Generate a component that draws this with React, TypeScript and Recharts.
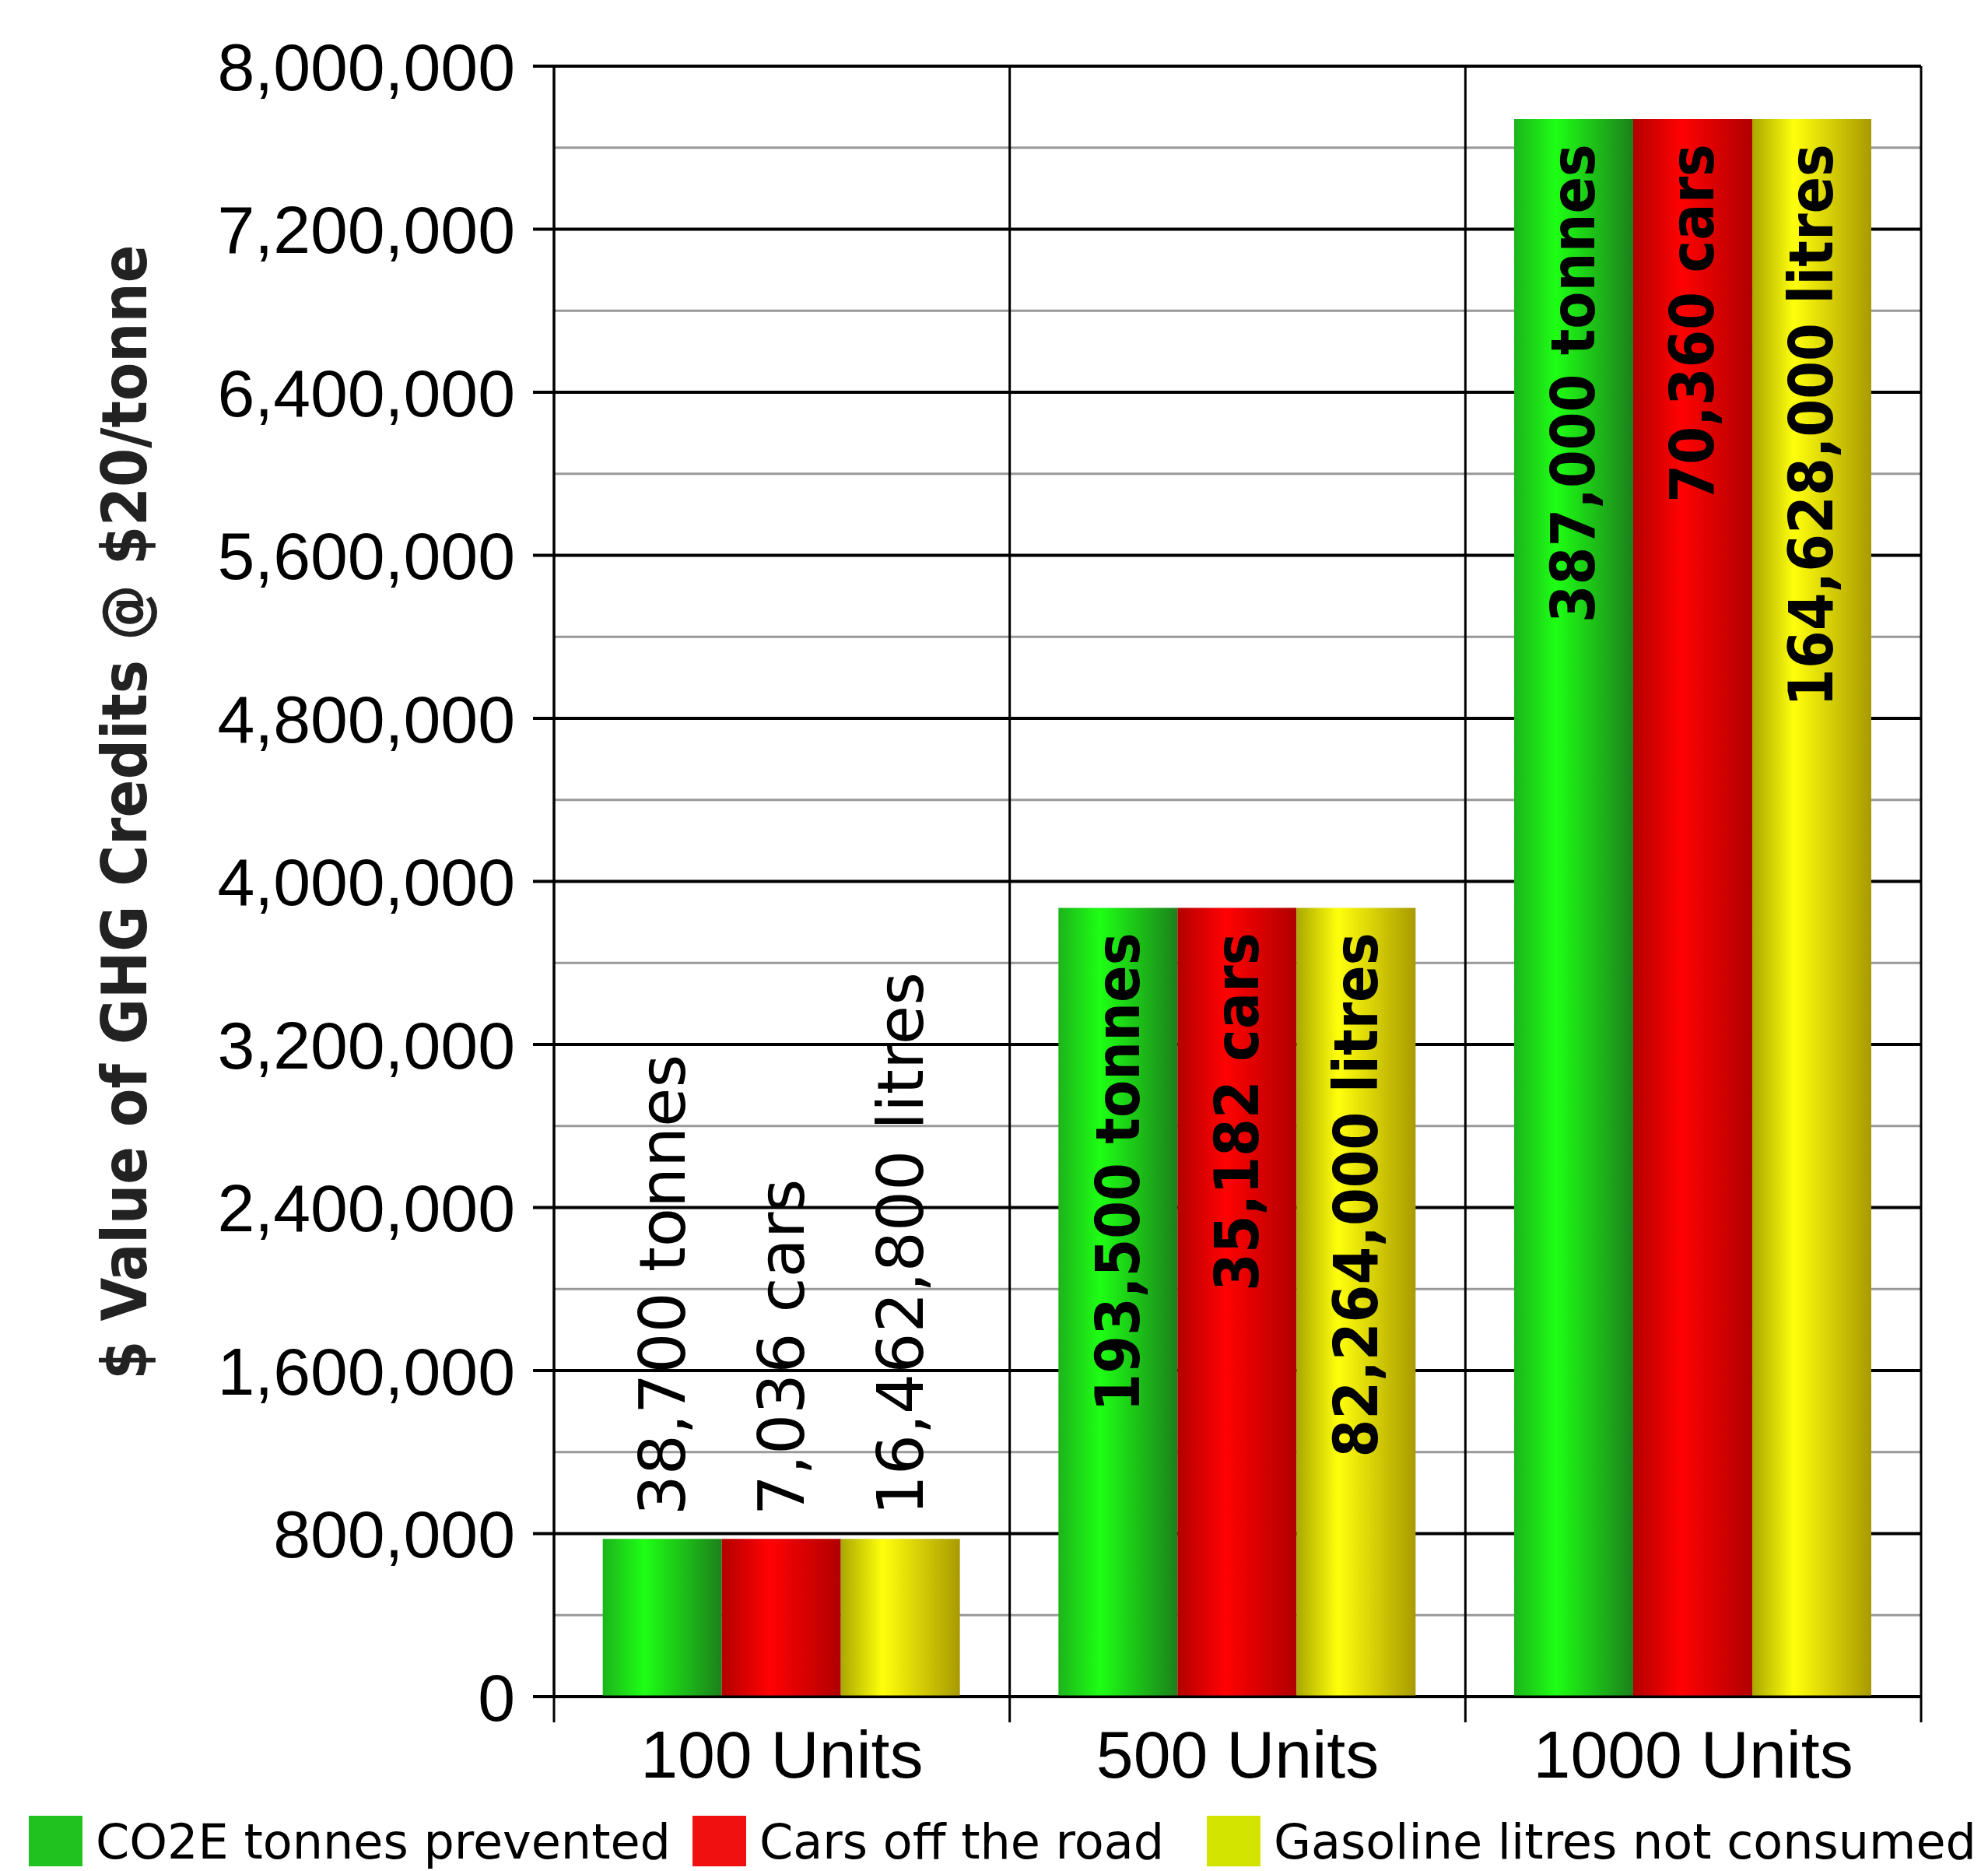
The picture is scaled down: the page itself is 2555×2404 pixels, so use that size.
import React from 'react';
import { BarChart, Bar, XAxis, YAxis, CartesianGrid, Legend, LabelList } from 'recharts';

// ============================================
// Data
// ============================================

const categories = ['100 Units', '500 Units', '1000 Units'];

// $ value of credits @ $20/tonne, one value per category
const co2eCredits = [774000, 3870000, 7740000];
const carsCredits = [774000, 3870000, 7740000];
const gasolineCredits = [774000, 3870000, 7740000];

// text written on each bar
const tonnesLabels = ['38,700 tonnes', '193,500 tonnes', '387,000 tonnes'];
const carsLabels = ['7,036 cars', '35,182 cars', '70,360 cars'];
const litresLabels = ['16,462,800 litres', '82,264,000 litres', '164,628,000 litres'];

const yTicks = [0, 800000, 1600000, 2400000, 3200000, 4000000, 4800000, 5600000, 6400000, 7200000, 8000000];
const yMinorTicks = [400000, 1200000, 2000000, 2800000, 3600000, 4400000, 5200000, 6000000, 6800000, 7600000];

// ============================================
// Series
// ============================================

const SERIES = [
  { key: 'co2e', name: 'CO2E tonnes prevented', gradient: 'gradGreen', swatch: '#1fc21f' },
  { key: 'cars', name: 'Cars off the road', gradient: 'gradRed', swatch: '#f01010' },
  { key: 'gasoline', name: 'Gasoline litres not consumed', gradient: 'gradYellow', swatch: '#d2e400' },
];

const data = categories.map((name, i) => ({
  name,
  co2e: co2eCredits[i],
  cars: carsCredits[i],
  gasoline: gasolineCredits[i],
  co2eLabel: tonnesLabels[i],
  carsLabel: carsLabels[i],
  gasolineLabel: litresLabels[i],
}));

const LABEL_FONT = "'DejaVu Sans Condensed', 'DejaVu Sans', sans-serif";
const TICK_FONT = "'Liberation Sans', Arial, sans-serif";
const LEGEND_X = [37, 890, 1551];

// ============================================
// Renderers
// ============================================

const renderNothing = () => <g />;

function renderBarLabel(props: any) {
  const vb = props.viewBox || props;
  const x = Number(vb.x);
  const y = Number(vb.y);
  const width = Number(vb.width);
  const height = Number(vb.height);
  const cx = x + width / 2;
  const inside = height > 500;
  const ty = inside ? y + 32 : y - 30;
  return (
    <text
      x={cx}
      y={ty}
      transform={`rotate(-90, ${cx}, ${ty})`}
      textAnchor={inside ? 'end' : 'start'}
      dominantBaseline="central"
      fontFamily={inside ? LABEL_FONT : "'DejaVu Sans', sans-serif"}
      fontWeight={inside ? 'bold' : 'normal'}
      fontSize={inside ? 78 : 82}
      fill="#000"
    >
      {props.value}
    </text>
  );
}

// category label plus the short marks below the axis at the category edges
function renderXTick(props: any) {
  const { x, y, payload, index, visibleTicksCount } = props;
  const half = Number(payload?.offset) || 0;
  const isLast = index === visibleTicksCount - 1;
  return (
    <g>
      <line x1={x - half} x2={x - half} y1={y} y2={y + 33} stroke="#000" strokeWidth={3} />
      {isLast && <line x1={x + half} x2={x + half} y1={y} y2={y + 33} stroke="#000" strokeWidth={3} />}
      <text x={x} y={y + 43} dy="0.71em" textAnchor="middle" fontSize={86} fontFamily={TICK_FONT} fill="#000">
        {payload.value}
      </text>
    </g>
  );
}

function renderYTitle(props: any) {
  const vb = props.viewBox || {};
  const cx = Number(vb.x || 0) + 160;
  const cy = Number(vb.y || 0) + Number(vb.height || 0) / 2 - 89;
  return (
    <text
      x={cx}
      y={cy}
      transform={`rotate(-90, ${cx}, ${cy})`}
      textAnchor="middle"
      dominantBaseline="central"
      fontFamily={LABEL_FONT}
      fontWeight="bold"
      fontSize={80}
      fill="#222"
    >
      $ Value of GHG Credits @ $20/tonne
    </text>
  );
}

function renderLegend(props: any) {
  const payload = props.payload || [];
  return (
    <div style={{ position: 'relative', width: 2555, height: 70, fontFamily: "'DejaVu Sans', sans-serif", fontSize: 62, color: '#000' }}>
      {payload.map((entry: any, i: number) => (
        <div
          key={entry.value}
          style={{ position: 'absolute', left: LEGEND_X[i], bottom: 0, display: 'flex', alignItems: 'flex-end', whiteSpace: 'nowrap' }}
        >
          <span style={{ display: 'inline-block', width: 69, height: 65, background: SERIES[i].swatch }} />
          <span style={{ marginLeft: 17, lineHeight: '62px' }}>{entry.value}</span>
        </div>
      ))}
    </div>
  );
}

// vertical dividers on the category edges
function categoryEdges({ offset }: any) {
  const n = categories.length;
  return Array.from({ length: n + 1 }, (_, k) => offset.left + (k * offset.width) / n);
}

// ============================================
// Component
// ============================================

export default function App() {
  return (
    <div style={{ position: 'absolute', left: 0, top: 0, width: 2555, height: 2404, background: '#fff' }}>
      <BarChart
        width={2555}
        height={2404}
        data={data}
        margin={{ top: 85, right: 86, bottom: 6, left: 0 }}
        barCategoryGap="10.7%"
        barGap={0}
      >
        <defs>
          <linearGradient id="gradGreen" x1="0" y1="0" x2="1" y2="0">
            <stop offset="0%" stopColor="#1cb41c" />
            <stop offset="35%" stopColor="#1eff14" />
            <stop offset="100%" stopColor="#1b801b" />
          </linearGradient>
          <linearGradient id="gradRed" x1="0" y1="0" x2="1" y2="0">
            <stop offset="0%" stopColor="#b30000" />
            <stop offset="40%" stopColor="#ff0202" />
            <stop offset="100%" stopColor="#b00000" />
          </linearGradient>
          <linearGradient id="gradYellow" x1="0" y1="0" x2="1" y2="0">
            <stop offset="0%" stopColor="#aaa800" />
            <stop offset="35%" stopColor="#ffff0c" />
            <stop offset="100%" stopColor="#a89a00" />
          </linearGradient>
        </defs>

        <CartesianGrid yAxisId="minor" vertical={false} stroke="#999" strokeWidth={3} />
        <CartesianGrid vertical={false} stroke="#000" strokeWidth={4} />
        <CartesianGrid horizontal={false} verticalCoordinatesGenerator={categoryEdges} stroke="#000" strokeWidth={3} />

        <XAxis
          dataKey="name"
          height={148}
          tickLine={false}
          tickSize={0}
          tickMargin={0}
          axisLine={{ stroke: '#000', strokeWidth: 3 }}
          tick={renderXTick}
        />

        <YAxis
          yAxisId="minor"
          width={0}
          domain={[0, 8000000]}
          ticks={yMinorTicks}
          allowDataOverflow
          axisLine={false}
          tickSize={15}
          tickLine={{ stroke: '#999', strokeWidth: 3 }}
          tick={renderNothing}
        />
        <YAxis
          width={712}
          domain={[0, 8000000]}
          ticks={yTicks}
          interval={0}
          tickSize={27}
          tickMargin={23}
          tickFormatter={(v: number) => v.toLocaleString('en-US')}
          axisLine={{ stroke: '#000', strokeWidth: 3 }}
          tickLine={{ stroke: '#000', strokeWidth: 4 }}
          tick={{ fontSize: 86, fill: '#000', fontFamily: TICK_FONT }}
          label={renderYTitle}
        />

        <Legend verticalAlign="bottom" content={renderLegend} wrapperStyle={{ left: 0, width: 2555 }} />

        {SERIES.map((s) => (
          <Bar key={s.key} dataKey={s.key} name={s.name} fill={`url(#${s.gradient})`} isAnimationActive={false}>
            <LabelList dataKey={`${s.key}Label`} content={renderBarLabel} />
          </Bar>
        ))}
      </BarChart>
    </div>
  );
}
